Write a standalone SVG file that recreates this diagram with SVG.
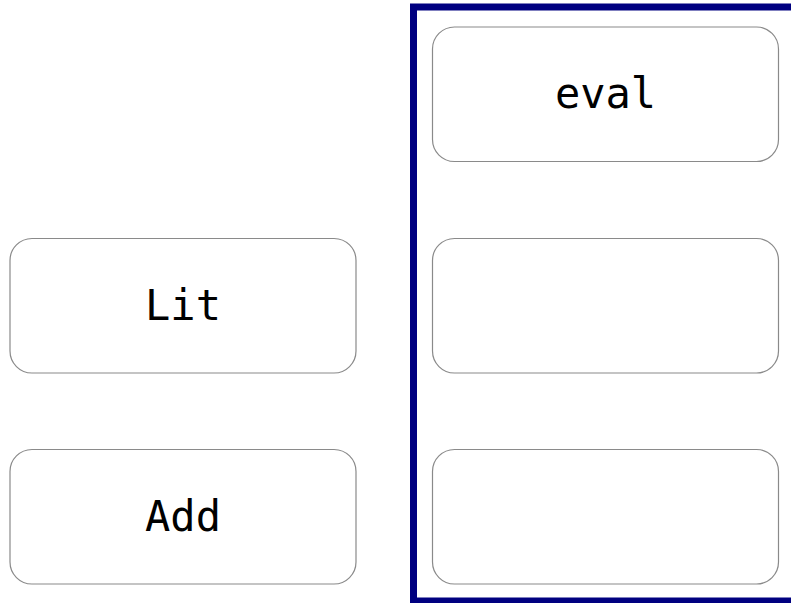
<svg xmlns="http://www.w3.org/2000/svg" width="791" height="603" viewBox="0 0 791 603">
<style>
.box{fill:#fff;stroke:#8a8a8a;stroke-width:1.2}
.lbl{font-family:"DejaVu Sans Mono","Liberation Mono",monospace;font-size:42px;fill:#000;text-anchor:middle}
.frame{fill:none;stroke:#000080;stroke-width:7}
</style>
<rect width="791" height="603" fill="#fff"/>
<g id="frame"><rect class="frame" x="413.5" y="7" width="400" height="594"/></g>
<g id="node-lit"><rect class="box" x="10" y="238.5" width="346" height="134.5" rx="22"/><text class="lbl" x="183" y="320">Lit</text></g>
<g id="node-add"><rect class="box" x="10" y="449.5" width="346" height="134.5" rx="22"/><text class="lbl" x="183" y="531">Add</text></g>
<g id="node-eval"><rect class="box" x="432.5" y="27" width="346" height="134.5" rx="22"/><text class="lbl" x="605.5" y="108">eval</text></g>
<g id="node-r2"><rect class="box" x="432.5" y="238.5" width="346" height="134.5" rx="22"/></g>
<g id="node-r3"><rect class="box" x="432.5" y="449.5" width="346" height="134.5" rx="22"/></g>
<g id="connectors"></g>
</svg>
